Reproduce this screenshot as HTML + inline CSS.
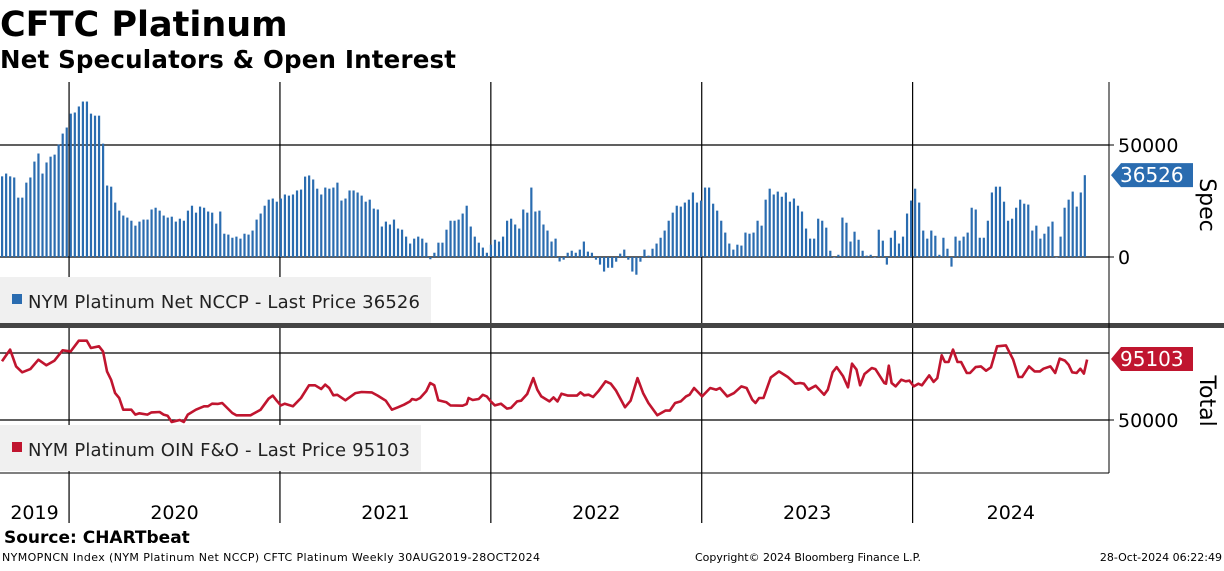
<!DOCTYPE html>
<html><head><meta charset="utf-8"><style>
body{margin:0;background:#fff;width:1224px;height:566px;overflow:hidden;font-family:"Liberation Sans",sans-serif}
svg text{font-family:"DejaVu Sans","Liberation Sans",sans-serif}
</style></head><body>
<svg id="c" width="1224" height="566" xmlns="http://www.w3.org/2000/svg">
<text x="0" y="36" font-size="35" font-weight="bold" fill="#000">CFTC Platinum</text>
<text x="0" y="68" font-size="24.5" font-weight="bold" fill="#000" textLength="456">Net Speculators &amp; Open Interest</text>
<g id="grid"></g>
<rect x="0" y="277" width="431" height="46" fill="#f0f0f0"/>
<rect x="0" y="425" width="421" height="46" fill="#f0f0f0"/>
<g id="bars"></g>
<g id="line"></g>
<rect x="0" y="323" width="1224" height="5" fill="#444"/>
<line x1="1109" y1="82" x2="1109" y2="473" stroke="#000" stroke-width="1"/>
<line x1="0" y1="473" x2="1109" y2="473" stroke="#000" stroke-width="1"/>
<g><rect x="12" y="294" width="10" height="10" fill="#2a6cb0"/><text x="28" y="308" font-size="18" fill="#222" textLength="392">NYM Platinum Net NCCP - Last Price 36526</text></g>
<g><rect x="12" y="442" width="10" height="10" fill="#c0152f"/><text x="28" y="456" font-size="18" fill="#222" textLength="382">NYM Platinum OIN F&amp;O - Last Price 95103</text></g>
<g id="yaxes"></g>
<text transform="translate(1200,205) rotate(90)" font-size="22" text-anchor="middle" fill="#000">Spec</text>
<text transform="translate(1200,401) rotate(90)" font-size="22" text-anchor="middle" fill="#000">Total</text>
<g id="xaxis"></g>
<text x="4" y="543" font-size="17" font-weight="bold" fill="#000">Source: CHARTbeat</text>
<text x="2" y="561" font-size="11" fill="#000" textLength="538">NYMOPNCN Index (NYM Platinum Net NCCP) CFTC Platinum  Weekly 30AUG2019-28OCT2024</text>
<text x="695" y="561" font-size="11" fill="#000" textLength="226">Copyright© 2024 Bloomberg Finance L.P.</text>
<text x="1222" y="561" font-size="11" fill="#000" text-anchor="end">28-Oct-2024 06:22:49</text>
</svg>
<script>
const specValues=[36000,37250,36000,35500,26500,26500,33200,35500,42600,46200,37250,42200,44800,45700,50200,55100,57800,64000,64500,67200,69400,69400,64000,63100,63100,50600,31900,31400,24300,20700,18500,17600,16200,14000,15800,16700,16700,21200,22000,20700,18500,17600,18000,15800,17100,16200,20700,22900,19800,22500,22000,20300,19800,14900,20300,10400,10000,8600,9100,8200,10400,10000,11800,16700,19400,22900,25600,26100,24700,26100,27900,27400,27900,29700,30100,35900,36400,34600,30500,27900,31000,30500,31000,33200,25200,26100,29700,29700,28800,27400,24700,25600,21600,21200,13600,15800,14500,16700,12700,12200,9100,6000,8200,9100,8200,6400,-1000,1900,6400,6400,12200,16200,16200,16700,19400,22900,13600,9100,6400,4200,1900,5500,7700,6900,9100,16200,17100,14500,12700,21200,19800,31000,20300,20700,14500,11800,6900,8200,-2000,
-1200,1900,2800,1900,3300,6900,2400,1900,-1200,-3400,-6500,-4800,-4800,-2100,1500,3300,-1200,-6500,-7900,-2100,3300,600,3700,6000,8600,11800,16200,19800,22900,22500,24300,25600,28800,24300,25200,31000,31000,23800,20700,16200,10900,6000,3300,5500,5100,10900,10400,10900,16200,14000,25600,30500,27900,29200,26900,28800,24700,26100,22900,20300,12700,8200,8200,17100,16200,13100,2800,-100,1000,17600,15300,6900,11300,7700,2800,600,1000,-100,12200,7300,-3400,8600,11800,6000,9100,19400,25200,30500,24300,11800,8200,11800,9500,1000,8600,3700,-4300,9100,7300,9100,10900,22000,21200,8600,8600,16200,28800,31400,31400,24700,16200,17100,22000,25600,23800,23400,11800,14000,8200,10400,13600,15800,-100,9100,22000,25600,29200,22500,28800,36526];
const oiWeeks=[0,2,3.5,5,7,9,11,13,15,17,19,21,22,24,25,26,27,28,29,30,32,33,34,36,37,39,40,41,42,44,45,46,48,50,51,52,53.5,54.5,57,58,59,61.5,63,64,66,67,68,69,70,72,74,76,77.5,79,80,81,82,83,85,87.5,89,91.5,93,95,96.5,98,99.5,101,101.5,102.5,103.5,105,106,107,108,110,111,114,115,115.5,116.5,118,119,120,121,122,123.5,125,126,127.5,128.5,130,131.5,132.5,133.5,135.5,136.5,137.5,138.5,140.1,142.3,143.2,144.1,145.2,146.3,147.6,149.4,150.7,152,154.2,155.6,157.3,158.7,160,162.2,164.2,165.3,166.6,168,169.3,170.2,171.3,173.3,175.3,176.8,177.7,179.5,181.2,183,184.3,185.7,186.5,187.4,188.5,190.3,192.3,194.5,196.3,197.6,198.5,199.6,201.4,203.5,204.4,205.6,206.6,208.2,209.4,210.4,211.5,212.4,213.5,215.3,216.2,218.4,218.8,219.5,220.2,221.2,222.6,223.7,224.6,225.7,226.8,227.7,229.5,230.6,231.5,232.6,233.4,234.3,235.4,236.5,237.4,238.8,239.6,241,242.3,243.6,244.8,246.3,248.5,250.3,251.6,252.5,254.2,255.6,256.9,257.8,259.5,260.7,261.8,263.1,264,264.9,266,266.9,267.8,268.6];
const oiValues=[93800,102500,90000,85600,88000,95000,90800,94300,102000,101200,109200,109200,103700,105000,101200,86300,80000,70100,66400,57700,57700,54000,55000,54000,55700,56000,54000,53200,48500,50000,48500,54000,57700,60200,60200,62200,62000,62700,55200,53500,53500,53500,56000,57700,65900,68200,64400,60900,62200,60200,66400,75900,75900,73100,76400,73900,68400,68800,64700,70100,70900,70600,68200,64400,57700,59500,61400,63900,65700,64900,66400,71400,77600,75900,64700,63200,60900,60700,61900,66400,64900,65700,68800,67600,63900,60900,62200,58500,59000,63900,64400,69400,81300,72600,67600,63900,66900,63900,69600,68200,68200,70600,68400,68900,67200,71400,78900,77100,71900,59500,64400,81300,70100,62700,53500,57000,57000,62700,63900,67600,68900,73900,67600,73900,72600,73900,67600,70100,75100,73900,65200,62700,66400,66400,81800,86300,82100,77100,77600,77100,72600,75600,68900,72600,85600,89500,82600,74400,92000,87600,75900,84300,88800,88000,77600,77100,90500,77600,75100,80100,78900,79400,75100,77100,75900,83300,78400,81300,98300,93300,93300,102500,93300,93300,85100,85100,89500,90000,86800,89300,105000,105700,95000,82100,82100,90000,86300,86300,88300,90000,85100,95800,94300,91300,85600,85100,88300,84600,95103];
const yearLabels=["2019","2020","2021","2022","2023","2024"];
const yearStartWeeks=[-35.6,16.6,68.8,121,173.2,225.4,277.6];
const specTicks=[0,50000];
const oiTicks=[50000,100000];
const NS="http://www.w3.org/2000/svg";
const X=w=>2+w*4.04;
const YS=v=>257-v*112/50000;
const YO=v=>353-(v-100000)*67/50000;
function mk(tag,attrs,parent){const e=document.createElementNS(NS,tag);for(const k in attrs)e.setAttribute(k,attrs[k]);document.getElementById(parent).appendChild(e);return e;}
specTicks.forEach(t=>{const l=mk('line',{x1:0,x2:1109,y1:YS(t),y2:YS(t),stroke:'#000','stroke-width':1.2},'grid');

});
oiTicks.forEach(t=>{const l=mk('line',{x1:0,x2:1109,y1:YO(t),y2:YO(t),stroke:'#000','stroke-width':1.2},'grid');

});
for(let i=1;i<yearStartWeeks.length-1;i++){const x=X(yearStartWeeks[i]);
const l=mk('line',{x1:x,x2:x,y1:82,y2:523,stroke:'#000','stroke-width':1.2},'grid');

}
specValues.forEach((v,i)=>{const x=X(i)-1,y0=YS(0),y=YS(v);
const r=mk('rect',{x:x,y:Math.min(y,y0),width:2.2,height:Math.max(0.6,Math.abs(y0-y)),fill:'#2a6cb0'},'bars');

});
const p=mk('polyline',{points:oiWeeks.map((w,i)=>X(w).toFixed(1)+','+YO(oiValues[i]).toFixed(1)).join(' '),fill:'none',stroke:'#c0152f','stroke-width':2.6,'stroke-linejoin':'round'},'line');


specTicks.forEach(t=>{mk('line',{x1:1109,x2:1114,y1:YS(t),y2:YS(t),stroke:'#000'},'yaxes');
const tx=mk('text',{x:1118,y:YS(t)+7,'font-size':19,fill:'#000'},'yaxes');tx.textContent=t;

});
oiTicks.forEach(t=>{if(t===100000)return;mk('line',{x1:1109,x2:1114,y1:YO(t),y2:YO(t),stroke:'#000'},'yaxes');
const tx=mk('text',{x:1118,y:YO(t)+7,'font-size':19,fill:'#000'},'yaxes');tx.textContent=t;

});
function tag(y,val,color,name){
const g=mk('g',{},'yaxes');


const e=document.createElementNS(NS,'polygon');e.setAttribute('points',`1111,${y} 1121,${y-12} 1193,${y-12} 1193,${y+12} 1121,${y+12}`);e.setAttribute('fill',color);g.appendChild(e);
const t=document.createElementNS(NS,'text');t.setAttribute('x',1120);t.setAttribute('y',y+7);t.setAttribute('font-size',20);t.setAttribute('fill','#fff');t.textContent=val;g.appendChild(t);}
tag(YS(specValues[specValues.length-1]),specValues[specValues.length-1],'#2a6cb0','spec-last-value-tag');
tag(359,oiValues[oiValues.length-1],'#c0152f','total-last-value-tag');
yearLabels.forEach((y,i)=>{const a=Math.max(X(yearStartWeeks[i]),0),b=Math.min(X(yearStartWeeks[i+1]),1109);
const t=mk('text',{x:(a+b)/2,y:519,'font-size':19,'text-anchor':'middle',fill:'#000'},'xaxis');t.textContent=y;

});
</script>
</body></html>
